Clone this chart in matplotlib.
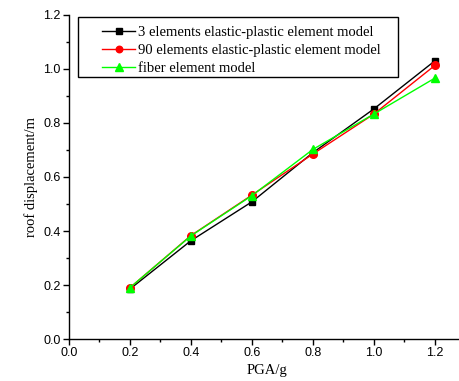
import matplotlib
matplotlib.use("Agg")
import matplotlib.pyplot as plt
from matplotlib.ticker import MultipleLocator
from matplotlib.patches import Rectangle

pga = [0.2, 0.4, 0.6, 0.8, 1.0, 1.2]
disp_3el = [0.185, 0.364, 0.508, 0.690, 0.852, 1.030]
disp_90el = [0.190, 0.383, 0.533, 0.685, 0.833, 1.013]
disp_fiber = [0.190, 0.382, 0.531, 0.702, 0.833, 0.966]
labels = ["3 elements elastic-plastic element model",
          "90 elements elastic-plastic element model",
          "fiber element model"]

fig = plt.figure(figsize=(4.59, 3.81), dpi=100)
ax = fig.add_axes([0.150, 0.110, 0.864, 0.851])

ax.plot(pga, disp_3el, color="black", marker="s", markersize=5, lw=1, label=labels[0])
ax.plot(pga, disp_90el, color="red", marker="o", markersize=5.5, lw=1, label=labels[1])
ax.plot(pga, disp_fiber, color="#00ff00", marker="^", markersize=6, lw=1, label=labels[2])

ax.set_xlim(0, 1.3)
ax.set_ylim(0, 1.2)
ax.xaxis.set_minor_locator(MultipleLocator(0.1))
ax.yaxis.set_minor_locator(MultipleLocator(0.1))
ax.set_xticks([0.0, 0.2, 0.4, 0.6, 0.8, 1.0, 1.2])
ax.set_xticklabels(["0.0", "0.2", "0.4", "0.6", "0.8", "1.0", "1.2"])
ax.set_yticks([0.0, 0.2, 0.4, 0.6, 0.8, 1.0, 1.2])
ax.set_yticklabels(["0.0", "0.2", "0.4", "0.6", "0.8", "1.0", "1.2"])

for s in ["top", "right"]:
    ax.spines[s].set_visible(False)
for s in ["left", "bottom"]:
    ax.spines[s].set_linewidth(1.0)

ax.tick_params(which="major", direction="out", length=4, width=1, labelsize=9, pad=2)
ax.tick_params(which="minor", direction="out", length=2.5, width=1)
for t in ax.get_xticklabels() + ax.get_yticklabels():
    t.set_fontfamily("Liberation Sans")

ax.set_xlabel("PGA/g", fontfamily="Liberation Serif", fontsize=10.5, labelpad=3)
ax.set_ylabel("roof displacement/m", fontfamily="Liberation Serif", fontsize=10.5, labelpad=4)

leg = ax.legend(loc="upper left", bbox_to_anchor=(0.222, 0.932), bbox_transform=fig.transFigure,
                frameon=False, prop={"family": "Liberation Serif", "size": 10.5},
                handlelength=2.3, borderpad=0.0, borderaxespad=0.0,
                labelspacing=0.32, handletextpad=0.2, markerscale=0.85)

fig.patches.append(Rectangle((0.170, 0.798), 0.697, 0.157, transform=fig.transFigure,
                             fill=False, edgecolor="black", linewidth=1.0, zorder=5))

fig.savefig("out.png", dpi=100)
